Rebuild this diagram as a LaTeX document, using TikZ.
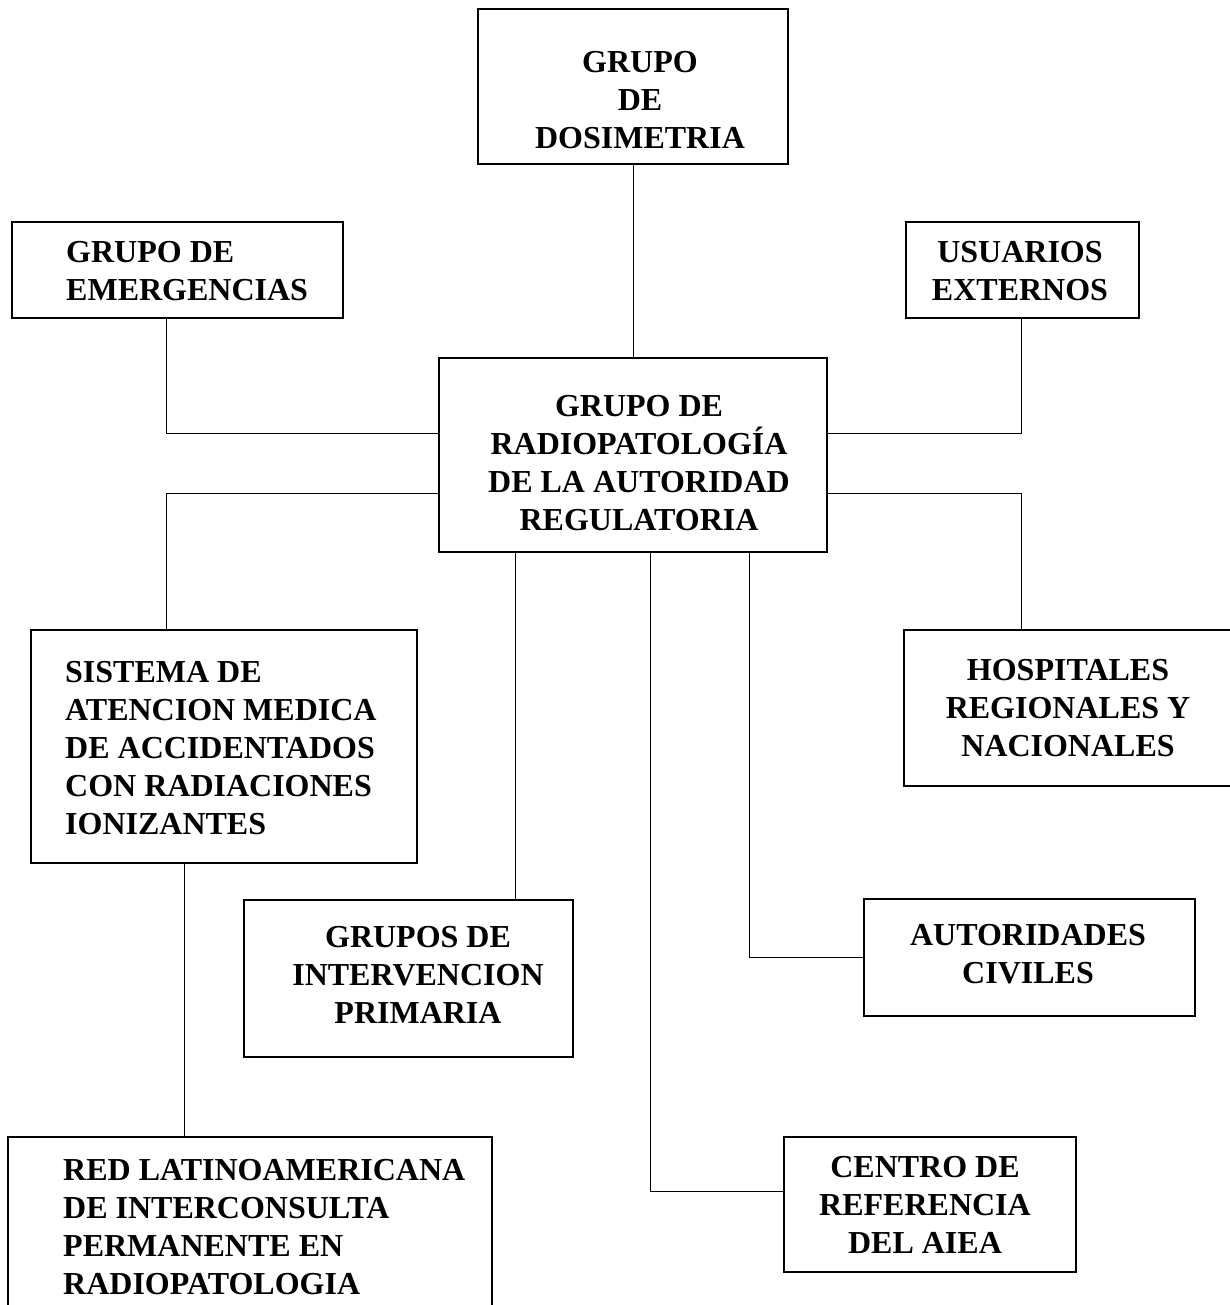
\documentclass[tikz,border=0pt]{standalone}
\usepackage{fontspec}
\setmainfont{Liberation Serif}
\begin{document}
\begin{tikzpicture}[x=1pt,y=-1pt,
  box/.style={draw, line width=1.4pt, inner sep=0pt},
  link/.style={draw, line width=0.8pt},
  txt/.style={inner sep=0pt, font=\bfseries\fontsize{32}{38}\selectfont},
  ctxt/.style={txt, align=center, anchor=north},
  ltxt/.style={txt, align=left, anchor=north west}]
\useasboundingbox (0,0) rectangle (1230,1305);
\clip (0,0) rectangle (1230,1305);
% boxes
\node[box, minimum width=310pt, minimum height=155pt] (dos) at (633,86.5) {};
\node[box, minimum width=331pt, minimum height=96pt] (emer) at (177.5,270) {};
\node[box, minimum width=233pt, minimum height=96pt] (usu) at (1022.5,270) {};
\node[box, minimum width=388pt, minimum height=194pt] (cen) at (633,455) {};
\node[box, minimum width=386pt, minimum height=233pt] (sis) at (224,746.5) {};
\node[box, minimum width=328pt, minimum height=156pt] (hos) at (1068,708) {};
\node[box, minimum width=329pt, minimum height=157pt] (gru) at (408.5,978.5) {};
\node[box, minimum width=331pt, minimum height=117pt] (aut) at (1029.5,957.5) {};
\node[box, minimum width=484pt, minimum height=183pt] (red) at (250,1228.5) {};
\node[box, minimum width=292pt, minimum height=135pt] (ref) at (930,1204.5) {};
% texts
\node[ctxt] (dosT) at (640,51.4) {GRUPO\\DE\\DOSIMETRIA};
\node[ltxt] (emerT) at (66,241) {GRUPO DE\\EMERGENCIAS};
\node[ctxt] (usuT) at (1020,241) {USUARIOS\\EXTERNOS};
\node[ctxt] (cenT) at (639,395) {GRUPO DE\\RADIOPATOLOGÍA\\DE LA AUTORIDAD\\REGULATORIA};
\node[ltxt] (sisT) at (65,661) {SISTEMA DE\\ATENCION MEDICA\\DE ACCIDENTADOS\\CON RADIACIONES\\IONIZANTES};
\node[ctxt] (hosT) at (1068,659) {HOSPITALES\\REGIONALES Y\\NACIONALES};
\node[ctxt] (gruT) at (418,926) {GRUPOS DE\\INTERVENCION\\PRIMARIA};
\node[ctxt] (autT) at (1028,924) {AUTORIDADES\\CIVILES};
\node[ltxt] (redT) at (63,1159) {RED LATINOAMERICANA\\DE INTERCONSULTA\\PERMANENTE EN\\RADIOPATOLOGIA};
\node[ctxt] (refT) at (925,1156) {CENTRO DE\\REFERENCIA\\DEL AIEA};
% connectors
\draw[link] (dos.south) -- (cen.north);
\draw[link] ([xshift=-11.5pt]emer.south) |- ([yshift=22pt]cen.west);
\draw[link] ([xshift=-1.5pt]usu.south) |- ([yshift=22pt]cen.east);
\draw[link] ([yshift=-38pt]cen.west) -| ([xshift=-58pt]sis.north);
\draw[link] ([yshift=-38pt]cen.east) -| ([xshift=-47pt]hos.north);
\draw[link] ([xshift=-118pt]cen.south) -- ([xshift=-118pt]cen.south |- gru.north);
\draw[link] ([xshift=116pt]cen.south) |- (aut.west);
\draw[link] ([xshift=17pt]cen.south) |- ([yshift=13.5pt]ref.west);
\draw[link] ([xshift=-40pt]sis.south) -- ([xshift=-40pt]sis.south |- red.north);
\end{tikzpicture}
\end{document}
